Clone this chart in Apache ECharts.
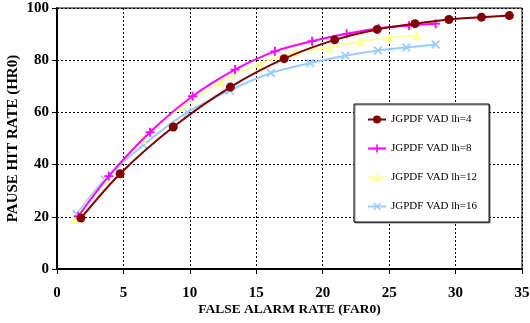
<!DOCTYPE html>
<html>
<head>
<meta charset="utf-8">
<script src="https://cdn.jsdelivr.net/npm/echarts@6/dist/echarts.min.js"></script>
<style>html,body{margin:0;padding:0;background:#fff}#c{width:530px;height:323px}</style>
</head>
<body>
<div id="c"></div>
<script>
var seriesNames = ['JGPDF VAD lh=4', 'JGPDF VAD lh=8', 'JGPDF VAD lh=12', 'JGPDF VAD lh=16'];
var lh4X = [1.8, 4.75, 8.75, 13.05, 17.1, 20.9, 24.1, 26.95, 29.5, 31.95, 34.05];
var lh4Y = [19.5, 36.5, 54.4, 69.7, 80.6, 87.8, 91.8, 94.0, 95.6, 96.5, 97.1];
var lh8X = [1.6, 3.9, 7.0, 10.2, 13.4, 16.4, 19.2, 21.8, 24.2, 26.5, 28.5];
var lh8Y = [20.2, 35.6, 52.4, 66.2, 76.4, 83.4, 87.3, 90.1, 92.2, 93.3, 94.0];
var lh12X = [1.3, 3.7, 6.4, 9.35, 12.3, 15.3, 17.95, 20.5, 22.85, 25.0, 27.1];
var lh12Y = [19.0, 34.3, 49.6, 62.1, 71.6, 78.7, 83.0, 84.8, 87.2, 88.6, 89.5];
var lh16X = [1.5, 3.6, 6.5, 9.8, 13.0, 16.1, 19.05, 21.7, 24.15, 26.3, 28.5];
var lh16Y = [21.0, 34.3, 47.5, 60.0, 68.4, 75.1, 78.9, 81.7, 83.7, 84.9, 86.0];
var xTicks = [0, 5, 10, 15, 20, 25, 30, 35];
var yTicks = [0, 20, 40, 60, 80, 100];

function pairs(xs, ys) { return xs.map(function (x, i) { return [x, ys[i]]; }); }

var plusPath = 'path://M4,0H6V4H10V6H6V10H4V6H0V4H4Z';
var crossPath = 'path://M1.4,0L5,3.6L8.6,0L10,1.4L6.4,5L10,8.6L8.6,10L5,6.4L1.4,10L0,8.6L3.6,5L0,1.4Z';

var styles = [
  { color: '#800000', symbol: 'circle', size: 9 },
  { color: '#FF00FF', symbol: plusPath, size: 9 },
  { color: '#FFFF99', symbol: 'triangle', size: 9 },
  { color: '#99CCFF', symbol: crossPath, size: 9 }
];
var datas = [pairs(lh4X, lh4Y), pairs(lh8X, lh8Y), pairs(lh12X, lh12Y), pairs(lh16X, lh16Y)];

var series = seriesNames.map(function (n, i) {
  return {
    name: n, type: 'line', data: datas[i], smooth: 0.3,
    symbol: styles[i].symbol, symbolSize: styles[i].size, showAllSymbol: true,
    lineStyle: { color: styles[i].color, width: 2 },
    itemStyle: { color: styles[i].color },
    z: 10 - i
  };
});

var font = 'Liberation Serif, Times New Roman, serif';
var chart = echarts.init(document.getElementById('c'));
chart.setOption({
  animation: false,
  backgroundColor: '#fff',
  grid: { left: 57, right: 8, top: 8, bottom: 54, show: true, borderColor: '#000', borderWidth: 1,
          containLabel: false, outerBoundsMode: 'none' },
  legend: {
    orient: 'vertical', left: 354, top: 104,
    padding: [10, 12, 10, 13], itemGap: 18, itemWidth: 18, itemHeight: 10,
    backgroundColor: '#fff', borderColor: '#000', borderWidth: 1,
    shadowColor: 'rgba(0,0,0,0.45)', shadowOffsetX: 1, shadowOffsetY: 1, shadowBlur: 0,
    textStyle: { fontFamily: font, fontSize: 11, color: '#000' },
    data: seriesNames
  },
  xAxis: {
    type: 'value', min: xTicks[0], max: xTicks[xTicks.length - 1], interval: 5,
    name: 'FALSE ALARM RATE (FAR0)', nameLocation: 'middle', nameGap: 34, nameMoveOverlap: false,
    nameTextStyle: { fontFamily: font, fontSize: 13.5, fontWeight: 'bold', color: '#000' },
    axisLine: { show: true, lineStyle: { color: '#000', width: 2 } },
    axisTick: { show: true, length: 5, lineStyle: { color: '#000', width: 1 } },
    axisLabel: { fontFamily: font, fontSize: 15, fontWeight: 'bold', color: '#000', margin: 17 },
    splitLine: { show: true, lineStyle: { color: '#000', type: [2, 2], width: 1 } }
  },
  yAxis: {
    type: 'value', min: yTicks[0], max: yTicks[yTicks.length - 1], interval: 20,
    name: 'PAUSE HIT RATE (HR0)', nameLocation: 'middle', nameGap: 36, nameMoveOverlap: false,
    nameTextStyle: { fontFamily: font, fontSize: 15, fontWeight: 'bold', color: '#000' },
    axisLine: { show: true, lineStyle: { color: '#000', width: 2 } },
    axisTick: { show: true, length: 5, lineStyle: { color: '#000', width: 1 } },
    axisLabel: { fontFamily: font, fontSize: 15, fontWeight: 'bold', color: '#000', margin: 8 },
    splitLine: { show: true, lineStyle: { color: '#000', type: [2, 2], width: 1 } }
  },
  series: series
});
</script>
</body>
</html>
